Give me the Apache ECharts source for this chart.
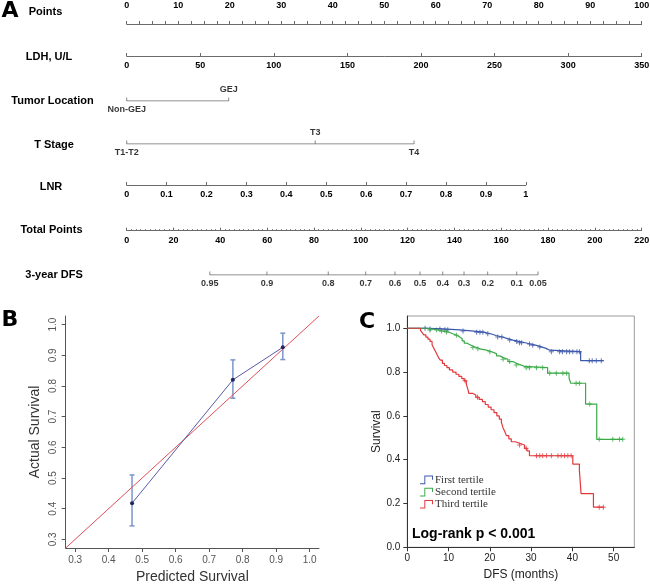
<!DOCTYPE html>
<html lang="en">
<head>
<meta charset="UTF-8">
<script src="https://cdn.jsdelivr.net/npm/echarts@6/dist/echarts.min.js"></script>
<style>
    html, body { margin: 0; padding: 0; background: #fff; }
    #main { width: 650px; height: 584px; }
</style>
</head>
<body>
<div id="main"></div>
<script>
// ---------- A: nomogram ----------
var ldhMax = 350;            // LDH value that gives 100 points
var lnrMaxPoints = 77.5;     // points for LNR = 1
var locNames = ['Non-GEJ', 'GEJ'];
var locPoints = [0, 19.8];
var tNames = ['T1-T2', 'T3', 'T4'];
var tPoints = [0, 36.6, 55.8];
var totalMax = 220;
var dfsLabels = ['0.95', '0.9', '0.8', '0.7', '0.6', '0.5', '0.4', '0.3', '0.2', '0.1', '0.05'];
var dfsTotal = [35.5, 59.9, 86.1, 102.1, 114.6, 125.3, 135.0, 144.1, 154.2, 166.6, 175.7];

// ---------- B: calibration ----------
var calTicks = [0.3, 0.4, 0.5, 0.6, 0.7, 0.8, 0.9, 1.0];
var predSurv = [0.470, 0.771, 0.920];
var actSurv = [0.418, 0.820, 0.926];
var ciLow = [0.344, 0.760, 0.886];
var ciHigh = [0.510, 0.885, 0.972];

// ---------- C: Kaplan-Meier ----------
var kmNames = ['First tertile', 'Second tertile', 'Third tertile'];
var kmXTicks = [0, 10, 20, 30, 40, 50];
var kmYTicks = [0, 0.2, 0.4, 0.6, 0.8, 1.0];
var firstCurve = [[0, 1], [5.0, 0.997], [8.7, 0.993], [12.7, 0.988], [15.5, 0.982], [18.5, 0.975], [20.2, 0.967],
    [21.5, 0.96], [23.0, 0.953], [24.3, 0.946], [25.6, 0.94], [27.0, 0.934], [28.6, 0.928], [29.8, 0.922],
    [31.3, 0.915], [32.5, 0.908], [33.6, 0.9], [34.5, 0.893], [42.0, 0.852], [47.6, 0.852]];
var secondCurve = [[0, 1], [4.7, 0.992], [7.5, 0.988], [8.5, 0.983], [10, 0.975], [11, 0.968], [12, 0.96],
    [12.7, 0.952], [13.3, 0.942], [13.8, 0.932], [14.5, 0.925], [15.2, 0.918], [15.9, 0.912], [16.8, 0.906],
    [17.6, 0.9], [19.2, 0.893], [20.4, 0.884], [21.6, 0.874], [22.4, 0.866], [23.2, 0.858], [24.4, 0.848],
    [25.6, 0.84], [26.4, 0.832], [27.6, 0.826], [28.4, 0.82], [34.0, 0.795], [39.2, 0.772], [39.6, 0.749],
    [43.2, 0.654], [45.9, 0.493], [52.3, 0.493]];
var thirdCurve = [[0, 1], [3.2, 0.99], [3.6, 0.98], [4.0, 0.97], [4.5, 0.96], [5.0, 0.95], [5.5, 0.94], [6.0, 0.925],
    [6.4, 0.91], [6.8, 0.895], [7.2, 0.88], [7.6, 0.865], [8.0, 0.855], [8.5, 0.84], [9.0, 0.83], [9.6, 0.82],
    [10.2, 0.81], [11.0, 0.80], [11.8, 0.79], [12.5, 0.78], [13.2, 0.77], [13.8, 0.76], [14.3, 0.745], [14.7, 0.72],
    [14.9, 0.703], [15.8, 0.695], [16.6, 0.685], [17.4, 0.675], [18.2, 0.665], [18.9, 0.652], [19.6, 0.64],
    [20.3, 0.628], [21.0, 0.615], [21.7, 0.60], [22.3, 0.585], [22.8, 0.57], [23.2, 0.545], [23.6, 0.53],
    [24.0, 0.51], [24.6, 0.495], [25.2, 0.482], [26.2, 0.475], [27.2, 0.467], [28.4, 0.452], [29.0, 0.44],
    [29.6, 0.418], [40.1, 0.38], [41.7, 0.35], [42.1, 0.245], [45.1, 0.183], [47.6, 0.183]];
var firstCensor = [4.3, 5.5, 7.9, 9.1, 9.8, 13.5, 16.8, 17.6, 18.3, 19.5, 21.9, 22.9, 24.8, 26.5, 27.2, 27.7,
    29.6, 30.4, 32.1, 34.9, 36.9, 37.6, 38.6, 39.3, 40.1, 41.1, 41.7, 44.1, 44.8, 45.8, 47.0];
var secondCensor = [5.5, 7.1, 8.3, 9.5, 11.9, 15.9, 17.1, 20.0, 23.2, 24.8, 26.4, 28.8, 29.6, 31.3, 32.8, 34.5,
    36.1, 37.7, 38.6, 40.9, 41.7, 44.2, 46.5, 49.8, 51.4, 52.2];
var thirdCensor = [14.0, 17.0, 27.2, 28.8, 31.3, 32.1, 32.8, 33.7, 34.9, 36.5, 37.3, 38.1, 38.9, 39.7, 46.5, 47.5];

var kmColors = ['#3c58aa', '#3aaa48', '#e2383c'];
var axisGray = '#6b6b6b';
var NL = 126.7, NW = 515;   // nomogram points scale: left edge and width

function survAt(curve, t) {
    var s = curve[0][1];
    for (var i = 0; i < curve.length; i++) {
        if (curve[i][0] <= t) s = curve[i][1];
    }
    return s;
}

var nomoLabel = { color: '#000', fontWeight: 'bold', fontSize: 9, fontFamily: 'Liberation Sans' };

function rowAxis(idx, max, interval, pos, extra) {
    var a = {
        gridIndex: idx, type: 'value', min: 0, max: max, interval: interval, position: pos,
        axisLine: { show: true, lineStyle: { color: axisGray, width: 1 } },
        axisTick: { show: true, inside: pos === 'bottom', length: 3, lineStyle: { color: axisGray } },
        axisLabel: Object.assign({ margin: pos === 'top' ? 4 : 5.5 }, nomoLabel),
        splitLine: { show: false }
    };
    return Object.assign(a, extra || {});
}

function hiddenAxis(idx, max) {
    return { gridIndex: idx, type: 'value', min: 0, max: max, show: false };
}

// a nomogram row drawn as a segment with ticks and labels
function rowSeries(idx, pts, names, alternate) {
    var line = {
        type: 'line', xAxisIndex: idx, yAxisIndex: idx, silent: true, animation: false,
        symbol: 'none', lineStyle: { color: axisGray, width: 1 },
        data: [[pts[0], 0], [pts[pts.length - 1], 0]]
    };
    var ticks = {
        type: 'scatter', xAxisIndex: idx, yAxisIndex: idx, silent: true, animation: false,
        symbol: 'rect', symbolSize: [1, 3.5], symbolOffset: [0, -1.75],
        itemStyle: { color: axisGray },
        data: pts.map(function (p, i) {
            var up = alternate && i % 2 === 1;
            return {
                value: [p, 0],
                label: Object.assign({
                    show: true, formatter: names[i],
                    position: up ? 'top' : 'bottom', distance: up ? 3.5 : 4
                }, nomoLabel)
            };
        })
    };
    return [line, ticks];
}

var grids = [
    { left: NL, top: 14, width: NW, height: 10 },
    { left: NL, top: 46, width: NW, height: 10 },
    { left: NL, top: 91, width: NW, height: 10 },
    { left: NL, top: 134, width: NW, height: 10 },
    { left: NL, top: 175, width: NW * lnrMaxPoints / 100, height: 10 },
    { left: NL, top: 220.7, width: NW, height: 10 },
    { left: NL, top: 265, width: NW, height: 10 },
    { left: 65.7, top: 316, width: 253.3, height: 232 },
    { left: 407.3, top: 316, width: 227, height: 231.3, show: true, borderColor: '#9a9a9a', borderWidth: 1 }
].map(function (g) {
    return Object.assign({ containLabel: false, outerBoundsMode: 'none' }, g);
});

var plainFont = 'Liberation Sans';

var xAxes = [
    rowAxis(0, 100, 10, 'top', { minorTick: { show: true, splitNumber: 4, length: 3, lineStyle: { color: axisGray } } }),
    rowAxis(1, ldhMax, 50, 'bottom'),
    hiddenAxis(2, 100),
    hiddenAxis(3, 100),
    rowAxis(4, 1, 0.1, 'bottom'),
    rowAxis(5, totalMax, 20, 'bottom', { minorTick: { show: true, splitNumber: 10, length: 1.5, lineStyle: { color: axisGray } } }),
    hiddenAxis(6, totalMax),
    {
        gridIndex: 7, type: 'value', min: 0.272, max: 1.028,
        axisLine: { show: true, lineStyle: { color: '#555' } },
        axisTick: { show: true, length: 4, customValues: calTicks, lineStyle: { color: '#555' } },
        axisLabel: { customValues: calTicks, formatter: function (v) { return v.toFixed(1); }, color: '#555', fontSize: 10, margin: 7, fontFamily: plainFont },
        splitLine: { show: false },
        name: 'Predicted Survival', nameLocation: 'middle', nameGap: 22, nameMoveOverlap: false,
        nameTextStyle: { fontSize: 14, color: '#333', fontFamily: plainFont }
    },
    {
        gridIndex: 8, type: 'value', min: 0, max: 55,
        axisLine: { show: true, lineStyle: { color: '#333' } },
        axisTick: { show: true, length: 4, customValues: kmXTicks, lineStyle: { color: '#333' } },
        axisLabel: { customValues: kmXTicks, color: '#222', fontSize: 10, margin: 6, fontFamily: plainFont },
        splitLine: { show: false },
        name: 'DFS (months)', nameLocation: 'middle', nameGap: 21, nameMoveOverlap: false,
        nameTextStyle: { fontSize: 12, color: '#222', fontFamily: plainFont }
    }
];

var yAxes = [0, 1, 2, 3, 4, 5, 6].map(function (i) { return hiddenAxis(i, 1); });
yAxes.push({
    gridIndex: 7, type: 'value', min: 0.272, max: 1.028,
    axisLine: { show: true, lineStyle: { color: '#555' } },
    axisTick: { show: true, length: 4, customValues: calTicks, lineStyle: { color: '#555' } },
    axisLabel: { customValues: calTicks, rotate: 90, formatter: function (v) { return v.toFixed(1); }, color: '#555', fontSize: 10, margin: 7, fontFamily: plainFont },
    splitLine: { show: false },
    name: 'Actual Survival', nameLocation: 'middle', nameGap: 24, nameMoveOverlap: false,
    nameTextStyle: { fontSize: 14, color: '#333', fontFamily: plainFont }
});
yAxes.push({
    gridIndex: 8, type: 'value', min: 0, max: 1.056,
    axisLine: { show: true, lineStyle: { color: '#333' } },
    axisTick: { show: true, length: 4, customValues: kmYTicks, lineStyle: { color: '#333' } },
    axisLabel: { customValues: kmYTicks, formatter: function (v) { return v.toFixed(1); }, color: '#222', fontSize: 10, margin: 7, fontFamily: plainFont },
    splitLine: { show: false },
    name: 'Survival', nameLocation: 'middle', nameGap: 25, nameMoveOverlap: false,
    nameTextStyle: { fontSize: 12, color: '#222', fontFamily: plainFont }
});

var series = [];
series = series.concat(rowSeries(2, locPoints, locNames, true));
series = series.concat(rowSeries(3, tPoints, tNames, true));
series = series.concat(rowSeries(6, dfsTotal, dfsLabels, false));

// calibration
series.push({
    type: 'line', xAxisIndex: 7, yAxisIndex: 7, silent: true, animation: false, symbol: 'none',
    lineStyle: { color: '#e0505a', width: 1 },
    data: [[0.272, 0.272], [1.028, 1.028]]
});
series.push({
    type: 'custom', xAxisIndex: 7, yAxisIndex: 7, silent: true, animation: false,
    data: predSurv.map(function (p, i) { return [p, ciLow[i], ciHigh[i]]; }),
    encode: { x: 0, y: [1, 2] },
    renderItem: function (params, api) {
        var lo = api.coord([api.value(0), api.value(1)]);
        var hi = api.coord([api.value(0), api.value(2)]);
        var st = { stroke: '#7b95c9', lineWidth: 1.5 };
        var cw = 2.5;
        return {
            type: 'group', children: [
                { type: 'line', shape: { x1: lo[0], y1: lo[1], x2: hi[0], y2: hi[1] }, style: st },
                { type: 'line', shape: { x1: lo[0] - cw, y1: lo[1], x2: lo[0] + cw, y2: lo[1] }, style: st },
                { type: 'line', shape: { x1: hi[0] - cw, y1: hi[1], x2: hi[0] + cw, y2: hi[1] }, style: st }
            ]
        };
    }
});
series.push({
    type: 'line', xAxisIndex: 7, yAxisIndex: 7, silent: true, animation: false,
    symbol: 'circle', symbolSize: 4, itemStyle: { color: '#22245e' },
    lineStyle: { color: '#5a5aa6', width: 1 },
    data: predSurv.map(function (p, i) { return [p, actSurv[i]]; })
});

// Kaplan-Meier
var plusIcon = 'path://M4,0 H6 V4 H10 V6 H6 V10 H4 V6 H0 V4 H4 Z';
[firstCurve, secondCurve, thirdCurve].forEach(function (curve, k) {
    series.push({
        name: kmNames[k], type: 'line', step: 'end', xAxisIndex: 8, yAxisIndex: 8,
        silent: true, animation: false, symbol: 'none',
        itemStyle: { color: kmColors[k] }, lineStyle: { color: kmColors[k], width: 1.2 },
        data: curve
    });
});
[firstCensor, secondCensor, thirdCensor].forEach(function (cens, k) {
    var curve = [firstCurve, secondCurve, thirdCurve][k];
    series.push({
        name: 'censor' + k, type: 'scatter', xAxisIndex: 8, yAxisIndex: 8,
        silent: true, animation: false, symbol: plusIcon, symbolSize: 5,
        itemStyle: { color: kmColors[k] },
        data: cens.map(function (t) { return [t, survAt(curve, t)]; })
    });
});

function txt(x, y, s, font, align) {
    return {
        type: 'text', x: x, y: y, silent: true,
        style: { text: s, font: font, fill: '#000', align: align || 'center', verticalAlign: 'middle' }
    };
}
var titleFont = 'bold 11px Liberation Sans';
var letterFont = 'bold 22px DejaVu Sans';

var option = {
    animation: false,
    backgroundColor: '#fff',
    textStyle: { fontFamily: plainFont },
    grid: grids,
    xAxis: xAxes,
    yAxis: yAxes,
    legend: {
        data: kmNames, orient: 'vertical', left: 420, top: 474,
        itemWidth: 13, itemHeight: 9, itemGap: 0.5, padding: 0,
        icon: 'path://M0,8.5 H4.5 V0.5 H13.5 V5 H12.5 V1.5 H5.5 V9.5 H0 Z',
        textStyle: { fontFamily: 'Liberation Serif', fontSize: 11, lineHeight: 11.7, color: '#333', padding: [0, 0, 0, -3] },
        selectedMode: false
    },
    graphic: [
        txt(10, 11, 'A', letterFont),
        txt(10, 320, 'B', letterFont),
        txt(367, 322, 'C', letterFont),
        txt(45.5, 11.5, 'Points', titleFont),
        txt(49, 56.5, 'LDH, U/L', titleFont),
        txt(52.5, 101, 'Tumor Location', titleFont),
        txt(54, 145, 'T Stage', titleFont),
        txt(51, 187, 'LNR', titleFont),
        txt(51.5, 230, 'Total Points', titleFont),
        txt(54, 275, '3-year DFS', titleFont),
        txt(412, 534, 'Log-rank p < 0.001', 'bold 14px Liberation Sans', 'left')
    ],
    series: series
};

var myChart = echarts.init(document.getElementById('main'));
myChart.setOption(option);
</script>
</body>
</html>
